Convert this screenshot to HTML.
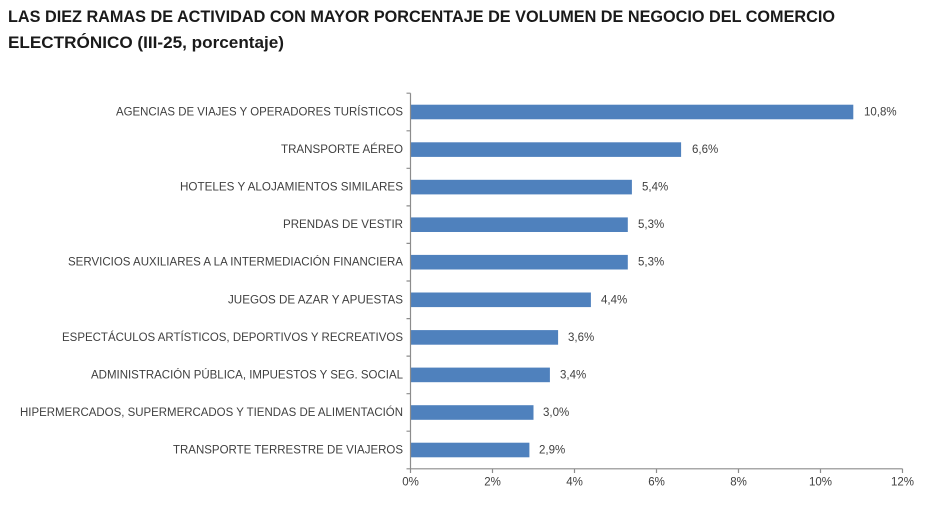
<!DOCTYPE html>
<html><head><meta charset="utf-8"><style>
html,body{margin:0;padding:0;background:#fff;}
svg{display:block;}
.t{font-family:"Liberation Sans",Arial,sans-serif;font-weight:bold;fill:#1a1a1a;font-size:16.5px;}
.c{font-family:"Liberation Sans",Arial,sans-serif;font-size:11.5px;fill:#404040;}
</style></head><body>
<svg width="950" height="520" viewBox="0 0 950 520" xmlns="http://www.w3.org/2000/svg">
<text class="t" x="8" y="22" textLength="827" lengthAdjust="spacingAndGlyphs">LAS DIEZ RAMAS DE ACTIVIDAD CON MAYOR PORCENTAJE DE VOLUMEN DE NEGOCIO DEL COMERCIO</text>
<text class="t" x="8" y="48" textLength="276" lengthAdjust="spacingAndGlyphs">ELECTRÓNICO (III-25, porcentaje)</text>
<g fill="#4f81bd">
<rect x="410.5" y="104.7" width="442.8" height="14.6"/>
<rect x="410.5" y="142.3" width="270.6" height="14.6"/>
<rect x="410.5" y="179.8" width="221.4" height="14.6"/>
<rect x="410.5" y="217.4" width="217.3" height="14.6"/>
<rect x="410.5" y="254.9" width="217.3" height="14.6"/>
<rect x="410.5" y="292.5" width="180.4" height="14.6"/>
<rect x="410.5" y="330.1" width="147.6" height="14.6"/>
<rect x="410.5" y="367.6" width="139.4" height="14.6"/>
<rect x="410.5" y="405.2" width="123" height="14.6"/>
<rect x="410.5" y="442.7" width="118.9" height="14.6"/>
</g>
<g stroke="#8c8c8c" stroke-width="1.2" fill="none">
<line x1="410.5" y1="93.2" x2="410.5" y2="468.8"/>
<line x1="410.5" y1="468.8" x2="902.5" y2="468.8"/>
<path d="M406.5 93.2H410.5M406.5 130.8H410.5M406.5 168.3H410.5M406.5 205.9H410.5M406.5 243.4H410.5M406.5 281H410.5M406.5 318.6H410.5M406.5 356.1H410.5M406.5 393.7H410.5M406.5 431.2H410.5M406.5 468.8H410.5"/>
<path d="M410.5 468.8V473M492.5 468.8V473M574.5 468.8V473M656.5 468.8V473M738.5 468.8V473M820.5 468.8V473M902.5 468.8V473"/>
</g>
<g class="c" text-anchor="end">
<text x="403" y="115.5" textLength="287" lengthAdjust="spacingAndGlyphs">AGENCIAS DE VIAJES Y OPERADORES TURÍSTICOS</text>
<text x="403" y="153.1" textLength="122" lengthAdjust="spacingAndGlyphs">TRANSPORTE AÉREO</text>
<text x="403" y="190.6" textLength="223" lengthAdjust="spacingAndGlyphs">HOTELES  Y ALOJAMIENTOS SIMILARES</text>
<text x="403" y="228.2" textLength="120" lengthAdjust="spacingAndGlyphs">PRENDAS DE VESTIR</text>
<text x="403" y="265.7" textLength="335" lengthAdjust="spacingAndGlyphs">SERVICIOS AUXILIARES A LA INTERMEDIACIÓN FINANCIERA</text>
<text x="403" y="303.3" textLength="175" lengthAdjust="spacingAndGlyphs">JUEGOS DE AZAR Y APUESTAS</text>
<text x="403" y="340.9" textLength="341" lengthAdjust="spacingAndGlyphs">ESPECTÁCULOS ARTÍSTICOS, DEPORTIVOS Y RECREATIVOS</text>
<text x="403" y="378.4" textLength="312" lengthAdjust="spacingAndGlyphs">ADMINISTRACIÓN PÚBLICA, IMPUESTOS Y SEG. SOCIAL</text>
<text x="403" y="416" textLength="383" lengthAdjust="spacingAndGlyphs">HIPERMERCADOS, SUPERMERCADOS Y TIENDAS DE ALIMENTACIÓN</text>
<text x="403" y="453.5" textLength="230" lengthAdjust="spacingAndGlyphs">TRANSPORTE TERRESTRE DE VIAJEROS</text>
</g>
<g class="c">
<text x="864" y="115.5">10,8%</text>
<text x="692" y="153.1">6,6%</text>
<text x="642" y="190.6">5,4%</text>
<text x="638" y="228.2">5,3%</text>
<text x="638" y="265.7">5,3%</text>
<text x="601" y="303.3">4,4%</text>
<text x="568" y="340.9">3,6%</text>
<text x="560" y="378.4">3,4%</text>
<text x="543" y="416">3,0%</text>
<text x="539" y="453.5">2,9%</text>
</g>
<g class="c" text-anchor="middle">
<text x="410.5" y="485.5">0%</text>
<text x="492.5" y="485.5">2%</text>
<text x="574.5" y="485.5">4%</text>
<text x="656.5" y="485.5">6%</text>
<text x="738.5" y="485.5">8%</text>
<text x="820.5" y="485.5">10%</text>
<text x="902.5" y="485.5">12%</text>
</g>
</svg>
</body></html>
